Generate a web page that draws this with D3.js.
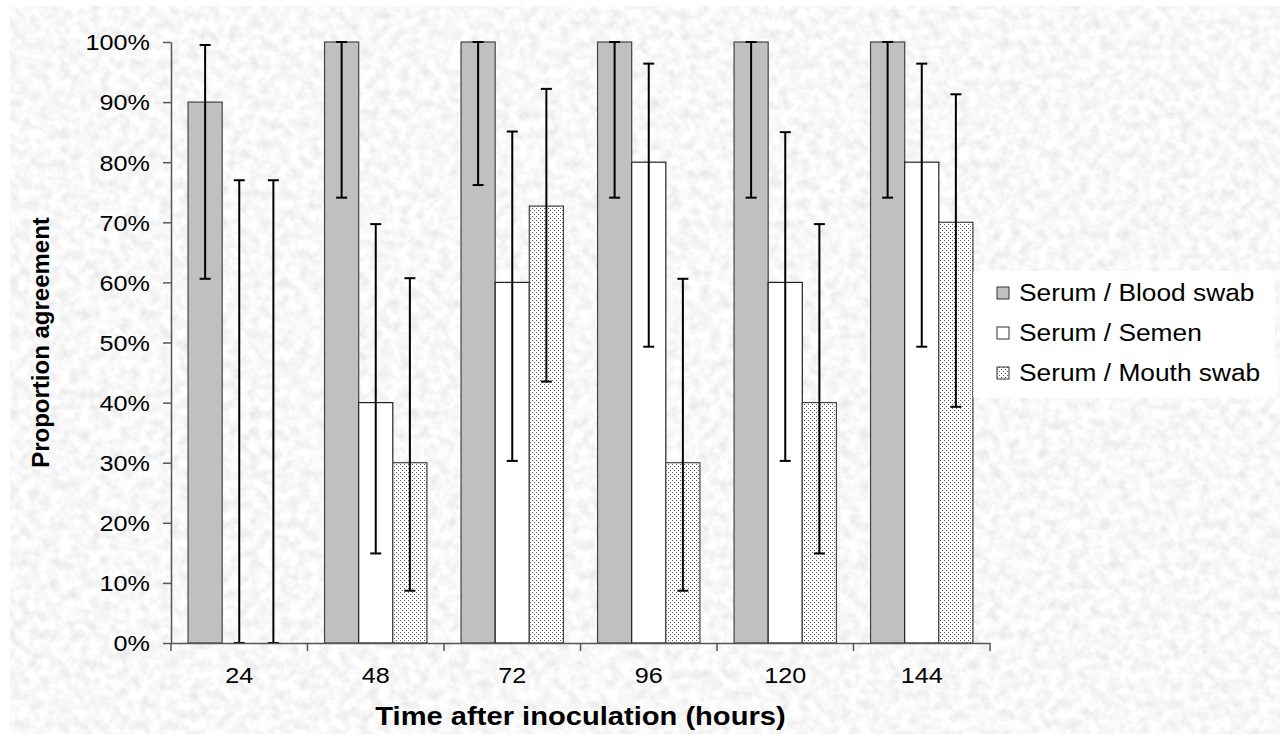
<!DOCTYPE html>
<html>
<head>
<meta charset="utf-8">
<script src="https://cdn.jsdelivr.net/npm/d3@7"></script>
<style>
body { margin: 0; background: #fff; }
svg { display: block; }
text { font-family: "Liberation Sans", Arial, sans-serif; fill: #000; }
</style>
</head>
<body>
<svg id="chart"></svg>
<script>
var width = 1280, height = 734;
var sx = 1.12; // text looks a bit stretched sideways in the original

// data (percent)
var hours = ["24", "48", "72", "96", "120", "144"];
var seriesNames = ["Serum / Blood swab", "Serum / Semen", "Serum / Mouth swab"];

var bloodValues = [90, 100, 100, 100, 100, 100];
var bloodLow    = [60.6, 74.1, 76.2, 74.1, 74.1, 74.1];
var bloodHigh   = [99.5, 100, 100, 100, 100, 100];

var semenValues = [0, 40, 60, 80, 60, 80];
var semenLow    = [0, 14.9, 30.3, 49.3, 30.3, 49.3];
var semenHigh   = [77, 69.7, 85.1, 96.4, 85.0, 96.4];

var mouthValues = [0, 30, 72.7, 30, 40, 70];
var mouthLow    = [0, 8.7, 43.5, 8.7, 14.9, 39.3];
var mouthHigh   = [77, 60.7, 92.2, 60.6, 69.7, 91.3];

var yTicks = [0, 10, 20, 30, 40, 50, 60, 70, 80, 90, 100];

var fills = ["#c0c0c0", "#ffffff", "url(#dots)"];
var strokes = ["#444", "#222", "#444"];

var series = [
	{ name: seriesNames[0], values: bloodValues, low: bloodLow, high: bloodHigh },
	{ name: seriesNames[1], values: semenValues, low: semenLow, high: semenHigh },
	{ name: seriesNames[2], values: mouthValues, low: mouthLow, high: mouthHigh }
];

var svg = d3.select('#chart')
	.attr('width', width)
	.attr('height', height);

var defs = svg.append('defs');

// granite like background
var filter = defs.append('filter')
	.attr('id', 'granite')
	.attr('x', 0).attr('y', 0).attr('width', '100%').attr('height', '100%');
filter.append('feTurbulence')
	.attr('type', 'fractalNoise')
	.attr('baseFrequency', 0.1)
	.attr('numOctaves', 3)
	.attr('seed', 7);
filter.append('feColorMatrix')
	.attr('type', 'matrix')
	.attr('values', '0.34 0 0 0 0.77  0.34 0 0 0 0.77  0.34 0 0 0 0.77  0 0 0 0 1');

var dots = defs.append('pattern')
	.attr('id', 'dots')
	.attr('width', 4).attr('height', 4)
	.attr('patternUnits', 'userSpaceOnUse');
dots.append('rect').attr('width', 4).attr('height', 4).attr('fill', '#fff');
dots.append('rect').attr('x', 0).attr('y', 0).attr('width', 1).attr('height', 1).attr('fill', '#555');
dots.append('rect').attr('x', 2).attr('y', 2).attr('width', 1).attr('height', 1).attr('fill', '#555');

svg.append('rect')
	.attr('x', 10).attr('y', 6)
	.attr('width', width - 10).attr('height', height - 6)
	.attr('filter', 'url(#granite)');

// scales
var plotLeft = 171, plotRight = 990, plotTop = 42, plotBottom = 643;

var x = d3.scaleBand()
	.domain(hours)
	.range([plotLeft, plotRight])
	.padding(0);

var bw = x.bandwidth();
var xs = d3.scaleBand()
	.domain(d3.range(series.length))
	.range([bw / 8, bw * 7 / 8])
	.padding(0);

var y = d3.scaleLinear()
	.domain([0, 100])
	.range([plotBottom, plotTop]);

// bars
var groups = svg.append('g').selectAll('g')
	.data(series)
	.enter()
	.append('g');

groups.selectAll('rect')
	.data(function(s, si) {
		return s.values.map(function(v, i) { return { si: si, hour: hours[i], v: v }; });
	})
	.enter()
	.append('rect')
	.filter(function(d) { return d.v > 0; })
	.attr('x', function(d) { return x(d.hour) + xs(d.si); })
	.attr('y', function(d) { return y(d.v); })
	.attr('width', xs.bandwidth())
	.attr('height', function(d) { return y(0) - y(d.v); })
	.attr('fill', function(d) { return fills[d.si]; })
	.attr('stroke', function(d) { return strokes[d.si]; })
	.attr('stroke-width', 1.2);

// error bars
var errs = [];
series.forEach(function(s, si) {
	hours.forEach(function(h, i) {
		errs.push({ si: si, hour: h, lo: s.low[i], hi: s.high[i] });
	});
});
var eg = svg.append('g').attr('stroke', '#000').attr('stroke-width', 2);
var capW = 5.5;
errs.forEach(function(d) {
	var cx = x(d.hour) + xs(d.si) + xs.bandwidth() / 2;
	eg.append('line').attr('x1', cx).attr('x2', cx).attr('y1', y(d.lo)).attr('y2', y(d.hi));
	eg.append('line').attr('x1', cx - capW).attr('x2', cx + capW).attr('y1', y(d.hi)).attr('y2', y(d.hi));
	eg.append('line').attr('x1', cx - capW).attr('x2', cx + capW).attr('y1', y(d.lo)).attr('y2', y(d.lo));
});

// y axis
var yAxis = svg.append('g')
	.attr('transform', 'translate(' + plotLeft + ',0)')
	.call(d3.axisLeft(y).tickValues(yTicks).tickSize(8).tickSizeOuter(0)
		.tickFormat(function(d) { return d + '%'; }));
yAxis.select('.domain').attr('stroke', '#555').attr('stroke-width', 1.5);
yAxis.selectAll('.tick line').attr('stroke', '#555').attr('stroke-width', 1.5);
yAxis.selectAll('.tick text')
	.attr('x', -21 / sx)
	.attr('dy', '0.35em')
	.attr('transform', 'scale(' + sx + ',1)')
	.style('font-size', '22.5px')
	.style('font-family', '"Liberation Sans", Arial, sans-serif')
	.attr('fill', '#000');

// x axis: labels at centres, ticks between categories
var xAxis = svg.append('g')
	.attr('transform', 'translate(0,' + plotBottom + ')')
	.call(d3.axisBottom(x).tickSize(0).tickPadding(24).tickSizeOuter(0));
xAxis.select('.domain').attr('stroke', '#555').attr('stroke-width', 1.5);
xAxis.selectAll('.tick text')
	.attr('transform', 'scale(' + sx + ',1)')
	.style('font-size', '22.5px')
	.style('font-family', '"Liberation Sans", Arial, sans-serif')
	.attr('fill', '#000');
var bounds = hours.map(function(h) { return x(h); }).concat([x(hours[hours.length - 1]) + bw]);
xAxis.selectAll('line.sep')
	.data(bounds)
	.enter()
	.append('line')
	.classed('sep', true)
	.attr('x1', function(d) { return d; })
	.attr('x2', function(d) { return d; })
	.attr('y1', 0)
	.attr('y2', 8)
	.attr('stroke', '#555')
	.attr('stroke-width', 1.5);

// axis titles
svg.append('text')
	.attr('transform', 'translate(' + ((plotLeft + plotRight) / 2) + ',725) scale(' + sx + ',1)')
	.attr('text-anchor', 'middle')
	.style('font-size', '26px')
	.style('font-weight', 'bold')
	.text('Time after inoculation (hours)');

svg.append('text')
	.attr('transform', 'translate(49,' + ((plotTop + plotBottom) / 2) + ') rotate(-90)')
	.attr('text-anchor', 'middle')
	.style('font-size', '24px')
	.style('font-weight', 'bold')
	.text('Proportion agreement');

// legend
var legend = svg.append('g').attr('transform', 'translate(973,271)');
legend.append('rect')
	.attr('width', 302).attr('height', 127)
	.attr('fill', '#fff');
legend.append('line')
	.attr('x1', 0).attr('x2', 0).attr('y1', 0).attr('y2', 127)
	.attr('stroke', '#666').attr('stroke-dasharray', '1,1');
var items = legend.selectAll('g.item')
	.data(series)
	.enter()
	.append('g')
	.classed('item', true)
	.attr('transform', function(d, i) { return 'translate(0,' + (22 + i * 40) + ')'; });
items.append('rect')
	.attr('x', 24).attr('y', -6)
	.attr('width', 12).attr('height', 12)
	.attr('fill', function(d, i) { return fills[i]; })
	.attr('stroke', '#333');
items.append('text')
	.attr('transform', 'translate(46,0) scale(' + sx + ',1)')
	.attr('dy', '0.35em')
	.style('font-size', '23.5px')
	.text(function(d) { return d.name; });
</script>
</body>
</html>
